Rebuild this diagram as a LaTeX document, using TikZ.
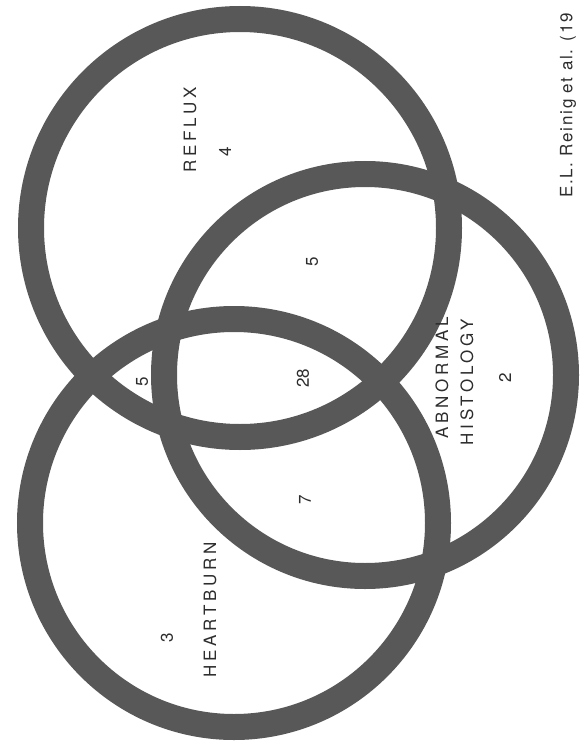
\documentclass[tikz,border=0pt]{standalone}
\usepackage{fontspec}
\setmainfont{TeX Gyre Heros}
\newfontfamily\lab[LetterSpace=22]{TeX Gyre Heros}
\newfontfamily\citefont[LetterSpace=10]{TeX Gyre Heros}
\definecolor{ringc}{RGB}{88,88,88}
\definecolor{ink}{RGB}{45,45,45}
\begin{document}
\begin{tikzpicture}[x=1pt,y=-1pt,
  ringst/.style={draw=ringc,line width=26pt},
  lbl/.style={rotate=90,font=\lab\fontsize{17}{17}\selectfont,text=ink,inner sep=0pt},
  num/.style={rotate=90,font=\fontsize{17}{17}\selectfont,text=ink,inner sep=0pt}]
\clip (0,0) rectangle (584,749);
\fill[white] (0,0) rectangle (584,749);
% rings (outer radius minus half the ring width)
\draw[ringst] (240,228) circle[radius=209pt];
\draw[ringst] (365,375) circle[radius=201pt];
\draw[ringst] (234,523) circle[radius=204pt];
% labels
\node[lbl] (reflux) at (190,130) {REFLUX};
\node[num] (n4) at (225,152) {4};
\node[num] (n5a) at (312,262) {5};
\node[num] (n28) at (303,378) {28};
\node[num] (n5b) at (142,382) {5};
\node[num] (n7) at (305,500) {7};
\node[num] (n3) at (167,638) {3};
\node[lbl] (heartburn) at (210,610) {HEARTBURN};
\node[lbl] (abn) at (442,378) {ABNORMAL};
\node[lbl] (hist) at (467,382) {HISTOLOGY};
\node[num] (n2) at (505,378) {2};
\node[rotate=90,anchor=west,inner sep=0pt,text=ink,font=\citefont\fontsize{17}{17}\selectfont] (cite) at (568,198) {E.L. Reinig et al. (19};
\end{tikzpicture}
\end{document}
